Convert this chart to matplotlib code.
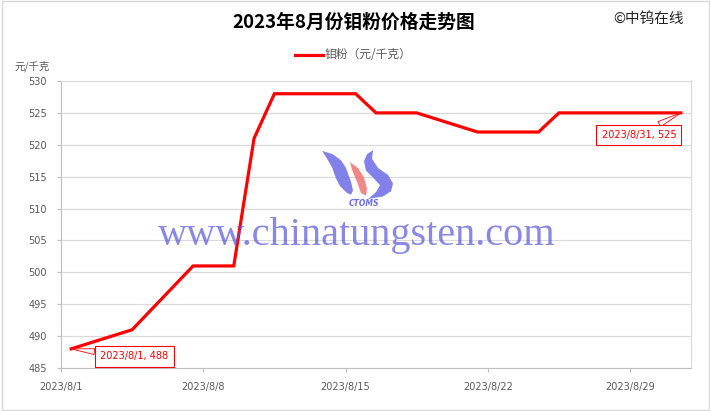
import matplotlib
matplotlib.use("Agg")
import matplotlib.pyplot as plt
import matplotlib.transforms as mtransforms
from matplotlib.patches import Polygon, Rectangle
import pandas as pd

# ---- data ----
dates = ["2023-08-01", "2023-08-02", "2023-08-03", "2023-08-04", "2023-08-07",
         "2023-08-08", "2023-08-09", "2023-08-10", "2023-08-11", "2023-08-14",
         "2023-08-15", "2023-08-16", "2023-08-17", "2023-08-18", "2023-08-21",
         "2023-08-22", "2023-08-23", "2023-08-24", "2023-08-25", "2023-08-28",
         "2023-08-29", "2023-08-30", "2023-08-31"]
prices = [488, 489, 490, 491, 501, 501, 501, 521, 528, 528, 528, 525, 525, 525,
          522, 522, 522, 522, 525, 525, 525, 525, 525]
tick_dates = ["2023-08-01", "2023-08-08", "2023-08-15", "2023-08-22", "2023-08-29"]
tick_labels = ["2023/8/1", "2023/8/8", "2023/8/15", "2023/8/22", "2023/8/29"]
y_ticks = [485, 490, 495, 500, 505, 510, 515, 520, 525, 530]
title = "2023年8月份钼粉价格走势图"
series_name = "钼粉（元/千克）"
unit_label = "元/千克"
copyright_text = "©中钨在线"
watermark = "www.chinatungsten.com"

W, H = 710, 411
CJK = ["Noto Sans CJK SC", "DejaVu Sans"]
plt.rcParams["font.family"] = ["DejaVu Sans"]

fig = plt.figure(figsize=(W / 100, H / 100), dpi=100)
fig.patch.set_facecolor("white")

# pixel transform (top-left origin)
pxT = mtransforms.Affine2D().scale(1 / W, -1 / H).translate(0, 1) + fig.transFigure

def fx(x):
    return x / W

def fy(y):
    return 1 - y / H

# outer border
fig.patches.append(Rectangle((1.5, 1.5), W - 3, H - 3, transform=pxT, fill=False,
                             edgecolor="#d9d9d9", lw=1.0))

L, R, T, B = 61, 691, 81, 368
ax = fig.add_axes([fx(L), fy(B), (R - L) / W, (B - T) / H])

x = pd.to_datetime(dates) + pd.Timedelta(hours=12)
ax.plot(x, prices, color="#ff0000", lw=2.3, solid_joinstyle="miter", zorder=3)

ax.set_xlim(pd.Timestamp("2023-08-01"), pd.Timestamp("2023-09-01"))
ax.set_ylim(485, 530)
ax.set_yticks(y_ticks)
ax.set_yticklabels([str(v) for v in y_ticks])
ax.set_xticks(pd.to_datetime(tick_dates))
ax.set_xticklabels(tick_labels)

ax.grid(axis="y", color="#d9d9d9", lw=0.8)
ax.set_axisbelow(True)
for s in ["top", "right"]:
    ax.spines[s].set_color("#d9d9d9")
    ax.spines[s].set_linewidth(0.8)
for s in ["left", "bottom"]:
    ax.spines[s].set_color("#bfbfbf")
    ax.spines[s].set_linewidth(0.8)
ax.tick_params(axis="both", colors="#bfbfbf", labelcolor="#595959", labelsize=7,
               length=3, width=0.8, direction="out")
ax.tick_params(axis="x", pad=7)
ax.tick_params(axis="y", pad=7)

# annotations
ann_style = dict(textcoords="offset pixels", color="#ff0000", fontsize=7,
                 ha="center", va="center",
                 bbox=dict(boxstyle="square,pad=0.55", fc="white", ec="#ff0000", lw=0.8),
                 arrowprops=dict(arrowstyle="wedge,tail_width=0.6", fc="white",
                                 ec="#ff0000", lw=0.6, shrinkA=0, shrinkB=0),
                 zorder=6)
ax.annotate(f"{dates[0][:4]}/8/1, {prices[0]}", xy=(x[0], prices[0]),
            xytext=(63, -7.5), **ann_style)
ax.annotate(f"{dates[-1][:4]}/8/31, {prices[-1]}", xy=(x[-1], prices[-1]),
            xytext=(-42, -22), **ann_style)

# titles / texts
fig.text(fx(354), fy(22.5), title, ha="center", va="center", fontsize=13.5,
         fontweight="bold", family=CJK, color="black")
fig.text(fx(648), fy(19), copyright_text, ha="center", va="center", fontsize=10.5,
         family=CJK, color="#222222")
fig.text(fx(14), fy(66), unit_label, ha="left", va="center", fontsize=7.5,
         family=CJK, color="#595959")
# legend
fig.lines.append(plt.Line2D([295, 323], [55, 55], transform=pxT, color="#ff0000", lw=2.3))
fig.text(fx(325), fy(55), series_name, ha="left", va="center", fontsize=8.5,
         family=CJK, color="#595959")

# watermark
fig.text(fx(357), fy(235), watermark, ha="center", va="center", fontsize=29,
         family=["Liberation Serif", "DejaVu Serif"], color="#5a5ade", alpha=0.72,
         zorder=10)
blue = "#6b6be6"
red = "#f07272"
left_sw = [(322, 151), (333, 155), (341, 162), (346, 171), (351, 187), (353, 197),
           (351, 202), (347, 200), (340, 192), (336, 183), (332, 170), (326, 158)]
red_sw = [(350, 164), (358, 171), (364, 182), (367, 195), (366, 203),
          (361, 200), (357, 187), (352, 173)]
right_sw = [(373, 150), (372, 160), (378, 171), (388, 179), (393, 189), (391, 198),
            (383, 204), (368, 207), (376, 199), (380, 191), (373, 182), (366, 174),
            (364, 163), (367, 155)]
logoT = mtransforms.Affine2D().translate(0, -150).scale(1, 0.86).translate(0, 150) + pxT
for pts, c in [(left_sw, blue), (red_sw, red), (right_sw, blue)]:
    fig.patches.append(Polygon(pts, closed=True, transform=logoT, fc=c, ec="none",
                               alpha=0.85, zorder=10))
fig.text(fx(364), fy(203.5), "CTOMS", ha="center", va="center", fontsize=5.5,
         fontweight="bold", fontstyle="italic", color=blue, zorder=10)

fig.savefig("out.png", dpi=100, facecolor="white")
